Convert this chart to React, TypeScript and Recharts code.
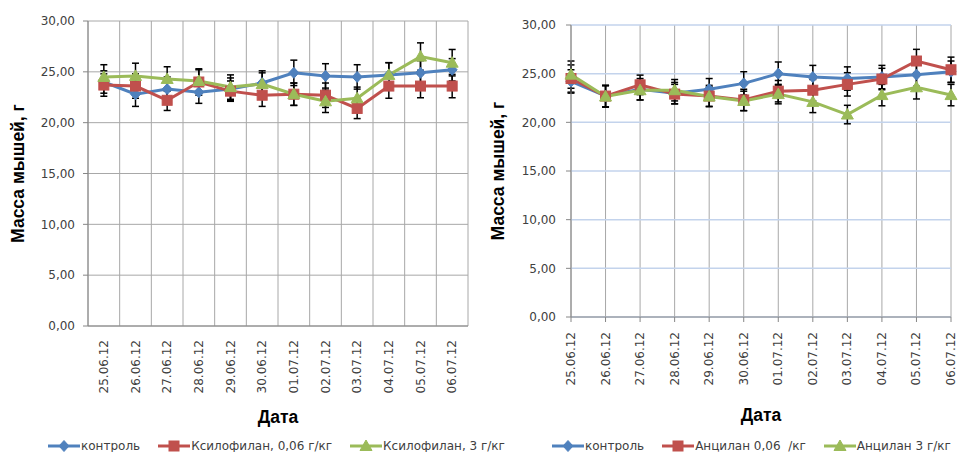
import React from 'react';
import { LineChart, Line, XAxis, YAxis, CartesianGrid, ErrorBar, Legend } from 'recharts';

const dates = ['25.06.12', '26.06.12', '27.06.12', '28.06.12', '29.06.12', '30.06.12', '01.07.12', '02.07.12', '03.07.12', '04.07.12', '05.07.12', '06.07.12'];
const yTicks = [0, 5, 10, 15, 20, 25, 30];

// left chart: ксилофилан
const xylControl = [24.0, 22.8, 23.3, 23.0, 23.3, 23.9, 24.9, 24.6, 24.5, 24.7, 24.9, 25.2];
const xylControlErr = [1.1, 1.2, 1.2, 1.1, 1.1, 1.2, 1.25, 1.2, 1.2, 1.2, 1.2, 1.1];
const xylLow = [23.7, 23.6, 22.2, 24.0, 23.1, 22.7, 22.8, 22.7, 21.4, 23.6, 23.6, 23.6];
const xylLowErr = [1.1, 1.2, 1.0, 1.3, 1.0, 1.1, 1.1, 1.2, 1.0, 1.2, 1.15, 1.15];
const xylHigh = [24.5, 24.6, 24.3, 24.1, 23.5, 23.8, 22.8, 22.1, 22.4, 24.7, 26.5, 25.9];
const xylHighErr = [1.2, 1.25, 1.2, 1.1, 1.2, 1.1, 1.1, 1.1, 1.1, 1.2, 1.35, 1.3];

// right chart: анцилан
const ancControl = [24.2, 22.7, 23.4, 23.0, 23.4, 24.0, 25.0, 24.65, 24.5, 24.65, 24.9, 25.2];
const ancControlErr = [1.2, 1.1, 1.1, 1.1, 1.1, 1.2, 1.2, 1.2, 1.2, 1.2, 1.2, 1.1];
const ancLow = [24.5, 22.7, 23.85, 22.9, 22.7, 22.3, 23.2, 23.3, 23.9, 24.45, 26.3, 25.4];
const ancLowErr = [1.4, 1.1, 1.0, 1.0, 1.1, 1.1, 1.1, 1.1, 1.2, 1.1, 1.2, 1.3];
const ancHigh = [24.9, 22.65, 23.3, 23.3, 22.65, 22.2, 22.9, 22.1, 20.8, 22.8, 23.6, 22.8];
const ancHighErr = [1.4, 1.1, 1.0, 1.1, 1.0, 1.0, 1.0, 1.1, 0.95, 1.1, 1.2, 1.1];

const BLUE = '#4f81bd';
const RED = '#c0504d';
const GREEN = '#9bbb59';
const TICK_FONT = '"DejaVu Sans", sans-serif';
const TITLE_FONT = '"Liberation Sans", Arial, sans-serif';

const leftData = dates.map((d, i) => ({
  x: i + 0.5,
  date: d,
  a: xylControl[i], ae: xylControlErr[i],
  b: xylLow[i], be: xylLowErr[i],
  c: xylHigh[i], ce: xylHighErr[i],
}));
// category boundaries for the left chart (Excel "between tick marks")
const bounds = dates.map((_, i) => i).concat(dates.length);

const rightData = dates.map((d, i) => ({
  date: d,
  a: ancControl[i], ae: ancControlErr[i],
  b: ancLow[i], be: ancLowErr[i],
  c: ancHigh[i], ce: ancHighErr[i],
}));

type Shape = 'diamond' | 'square' | 'triangle';

const Marker = ({ cx, cy, shape, color }: { cx: number; cy: number; shape: Shape; color: string }) => {
  if (shape === 'diamond') {
    return <path d={`M${cx},${cy - 5.5} L${cx + 5},${cy} L${cx},${cy + 5.5} L${cx - 5},${cy} Z`} fill={color} stroke={color} strokeWidth={1} />;
  }
  if (shape === 'square') {
    return <rect x={cx - 5} y={cy - 5} width={10} height={10} fill={color} stroke={color} strokeWidth={1} />;
  }
  return <path d={`M${cx},${cy - 6} L${cx + 6},${cy + 4.5} L${cx - 6},${cy + 4.5} Z`} fill={color} stroke={color} strokeWidth={1} />;
};

const makeDot = (shape: Shape, color: string) => (props: any) => {
  const { cx, cy, index } = props;
  if (cx == null || cy == null) return <g key={`d-${shape}-${index}`} />;
  return <Marker key={`d-${shape}-${index}`} cx={cx} cy={cy} shape={shape} color={color} />;
};

const fmt = (v: number) => v.toFixed(2).replace('.', ',');

const DateTick = (props: any) => {
  const { x, y, payload, labels } = props;
  const text = labels ? labels[Math.round(payload.value - 0.5)] : payload.value;
  return (
    <text x={x} y={y} transform={`rotate(-90 ${x} ${y})`} textAnchor="end" dominantBaseline="central"
      fontFamily={TICK_FONT} fontSize={12} fill="#404040">
      {text}
    </text>
  );
};

const YTitle = ({ viewBox, dx }: any) => {
  const x = viewBox.x + dx;
  const y = viewBox.y + viewBox.height / 2;
  return (
    <text x={x} y={y} transform={`rotate(-90 ${x} ${y})`} textAnchor="middle" dominantBaseline="central"
      fontFamily={TITLE_FONT} fontWeight="bold" fontSize={17.5} fill="#000">
      Масса мышей, г
    </text>
  );
};

const XTitle = ({ viewBox, dy }: any) => (
  <text x={viewBox.x + viewBox.width / 2} y={viewBox.y + dy} textAnchor="middle" dominantBaseline="central"
    fontFamily={TITLE_FONT} fontWeight="bold" fontSize={17.5} fill="#000">
    Дата
  </text>
);

const LegendBox = ({ items }: { items: { name: string; color: string; shape: Shape }[] }) => (
  <div style={{ display: 'flex', alignItems: 'center', height: 20, whiteSpace: 'pre', fontFamily: TICK_FONT, fontSize: 12, color: '#404040' }}>
    {items.map((it) => (
      <div key={it.name} style={{ display: 'flex', alignItems: 'center', marginRight: 18 }}>
        <svg width={32} height={14} style={{ marginRight: 1, display: 'block' }}>
          <line x1={0} y1={7} x2={32} y2={7} stroke={it.color} strokeWidth={3} />
          <Marker cx={16} cy={7} shape={it.shape} color={it.color} />
        </svg>
        <span>{it.name}</span>
      </div>
    ))}
  </div>
);

const leftLegend = [
  { name: 'контроль', color: BLUE, shape: 'diamond' as Shape },
  { name: 'Ксилофилан, 0,06 г/кг', color: RED, shape: 'square' as Shape },
  { name: 'Ксилофилан, 3 г/кг', color: GREEN, shape: 'triangle' as Shape },
];
const rightLegend = [
  { name: 'контроль', color: BLUE, shape: 'diamond' as Shape },
  { name: 'Анцилан 0,06  /кг', color: RED, shape: 'square' as Shape },
  { name: 'Анцилан 3 г/кг', color: GREEN, shape: 'triangle' as Shape },
];

const series = [
  { key: 'a', err: 'ae', color: BLUE, shape: 'diamond' as Shape },
  { key: 'b', err: 'be', color: RED, shape: 'square' as Shape },
  { key: 'c', err: 'ce', color: GREEN, shape: 'triangle' as Shape },
];

const renderLines = (prefix: string) =>
  series.map((s) => (
    <Line key={`${prefix}-${s.key}`} type="linear" dataKey={s.key} stroke={s.color} strokeWidth={3}
      dot={makeDot(s.shape, s.color)} activeDot={false} isAnimationActive={false} legendType="none">
      <ErrorBar dataKey={s.err} direction="y" width={3.5} stroke="#000" strokeWidth={1.5} />
    </Line>
  ));

const XylChart = () => (
  <LineChart width={480} height={452} data={leftData} margin={{ top: 21, right: 12, left: 0, bottom: 0 }}>
    <CartesianGrid stroke="#a8a8a8" strokeWidth={1} xAxisId="grid" />
    <XAxis xAxisId="grid" dataKey="x" type="number" domain={[0, dates.length]} ticks={bounds} interval={0}
      height={0} tickSize={5} axisLine={false} tickLine={{ stroke: '#a8a8a8' }} tick={() => <g />} />
    <XAxis dataKey="x" type="number" domain={[0, dates.length]} ticks={leftData.map((d) => d.x)}
      height={106} tickLine={false} tickSize={0} tickMargin={14} axisLine={{ stroke: '#868686' }}
      tick={<DateTick labels={dates} />} interval={0}
      label={{ content: (p: any) => <XTitle {...p} dy={91} /> }} />
    <YAxis domain={[0, 30]} ticks={yTicks} width={88} tickFormatter={fmt} tickSize={5} tickMargin={8}
      axisLine={{ stroke: '#868686' }} tickLine={{ stroke: '#868686' }}
      tick={{ fontFamily: TICK_FONT, fontSize: 12, fill: '#404040' }}
      label={{ content: (p: any) => <YTitle {...p} dx={18} /> }} />
    {renderLines('x')}
    <Legend verticalAlign="bottom" content={() => <LegendBox items={leftLegend} />}
      wrapperStyle={{ left: 48, bottom: -4, width: 520, height: 20 }} />
  </LineChart>
);

const AncChart = () => (
  <LineChart width={485} height={452} data={rightData} margin={{ top: 25, right: 14, left: 0, bottom: 0 }}>
    <CartesianGrid horizontal={false} stroke="#a8a8a8" strokeWidth={1} />
    <CartesianGrid vertical={false} stroke="#c3d3ec" strokeWidth={1.5} />
    <XAxis dataKey="date" height={115} interval={0} tickSize={5} tickMargin={10}
      axisLine={{ stroke: '#868686' }} tickLine={{ stroke: '#868686' }}
      tick={<DateTick />}
      label={{ content: (p: any) => <XTitle {...p} dy={98} /> }} />
    <YAxis domain={[0, 30]} ticks={yTicks} width={91} tickFormatter={fmt} tickSize={5} tickMargin={10}
      axisLine={{ stroke: '#868686' }} tickLine={{ stroke: '#868686' }}
      tick={{ fontFamily: TICK_FONT, fontSize: 12, fill: '#404040' }}
      label={{ content: (p: any) => <YTitle {...p} dx={18} /> }} />
    {renderLines('n')}
    <Legend verticalAlign="bottom" content={() => <LegendBox items={rightLegend} />}
      wrapperStyle={{ left: 72, bottom: -4, width: 520, height: 20 }} />
  </LineChart>
);

export default function App() {
  return (
    <div style={{ position: 'absolute', left: 0, top: 0, width: 965, height: 452, overflow: 'hidden', background: '#fff' }}>
      <div style={{ position: 'absolute', left: 0, top: 0 }}>
        <XylChart />
      </div>
      <div style={{ position: 'absolute', left: 480, top: 0 }}>
        <AncChart />
      </div>
    </div>
  );
}
